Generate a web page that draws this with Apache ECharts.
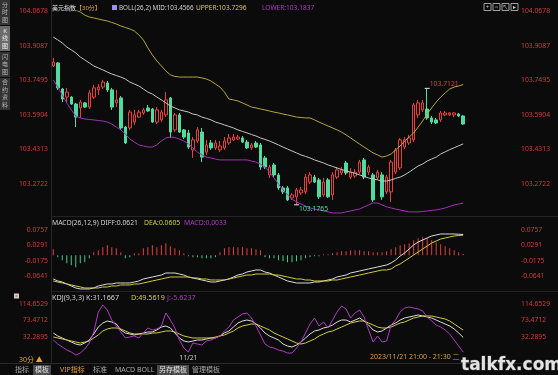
<!DOCTYPE html>
<html><head><meta charset="utf-8">
<script src="https://cdn.jsdelivr.net/npm/echarts@6/dist/echarts.min.js"></script>
<style>html,body{margin:0;padding:0;background:#0b0b0b;}#c{width:558px;height:375px;}</style>
</head><body><div id="c"></div>
<script>
// ---------- DATA ----------
const slotCount = 103;            // category slots on the time axis (92 bars + empty space)
const dayLabelIndex = 30;
const dayLabel = '11/21';
const symbolName = '美元指数';
const periodName = '【30分】';
const lastBarText = '2023/11/21 21:00 - 21:30 二';
const upperTagValue = 103.7323;
const highMarkIndex = 83;         // bar whose high is annotated
const lowMarkIndex = 54;          // bar whose low is annotated

// candles: [open, close, low, high]
const candles = [
[103.815,103.833,103.810,103.852],[103.829,103.714,103.705,103.833],[103.709,103.663,103.649,103.714],
[103.672,103.695,103.645,103.714],[103.672,103.640,103.636,103.677],[103.640,103.580,103.534,103.645],
[103.622,103.649,103.576,103.659],[103.645,103.626,103.622,103.649],[103.626,103.691,103.617,103.705],
[103.672,103.714,103.663,103.728],[103.705,103.718,103.682,103.732],[103.718,103.741,103.709,103.751],
[103.737,103.705,103.695,103.746],[103.705,103.626,103.613,103.714],[103.645,103.659,103.626,103.705],
[103.668,103.530,103.521,103.677],[103.534,103.461,103.456,103.539],[103.530,103.603,103.521,103.613],
[103.557,103.590,103.544,103.613],[103.580,103.603,103.576,103.613],[103.599,103.613,103.590,103.622],
[103.622,103.608,103.603,103.636],[103.617,103.557,103.553,103.622],[103.557,103.613,103.548,103.626],
[103.567,103.603,103.557,103.613],[103.590,103.659,103.580,103.695],[103.668,103.511,103.484,103.672],
[103.521,103.590,103.511,103.599],[103.590,103.511,103.507,103.599],[103.521,103.488,103.479,103.525],
[103.507,103.442,103.433,103.521],[103.429,103.475,103.392,103.488],[103.470,103.521,103.461,103.534],
[103.511,103.396,103.373,103.530],[103.419,103.452,103.406,103.475],[103.461,103.438,103.429,103.475],
[103.438,103.461,103.429,103.475],[103.429,103.447,103.419,103.470],[103.438,103.470,103.429,103.488],
[103.461,103.484,103.452,103.502],[103.475,103.488,103.470,103.502],[103.479,103.488,103.475,103.498],
[103.484,103.465,103.461,103.493],[103.465,103.438,103.433,103.475],[103.438,103.452,103.429,103.461],
[103.461,103.442,103.438,103.470],[103.452,103.350,103.337,103.461],[103.392,103.350,103.341,103.401],
[103.314,103.350,103.300,103.360],[103.360,103.314,103.304,103.369],[103.314,103.254,103.245,103.323],
[103.254,103.236,103.226,103.263],[103.254,103.199,103.194,103.263],[103.208,103.222,103.199,103.231],
[103.213,103.245,103.1765,103.254],[103.231,103.245,103.222,103.259],[103.236,103.304,103.226,103.318],
[103.281,103.314,103.272,103.327],[103.304,103.281,103.277,103.314],[103.291,103.213,103.203,103.300],
[103.222,103.281,103.213,103.300],[103.291,103.213,103.208,103.300],[103.222,103.314,103.199,103.327],
[103.304,103.337,103.295,103.350],[103.323,103.337,103.314,103.350],[103.369,103.323,103.314,103.378],
[103.304,103.327,103.295,103.346],[103.309,103.327,103.300,103.341],[103.327,103.373,103.318,103.383],
[103.383,103.304,103.295,103.392],[103.327,103.350,103.314,103.360],[103.314,103.199,103.190,103.323],
[103.300,103.327,103.291,103.337],[103.314,103.213,103.199,103.327],[103.236,103.304,103.226,103.314],
[103.236,103.373,103.190,103.383],[103.327,103.429,103.318,103.438],[103.346,103.475,103.337,103.484],
[103.442,103.475,103.433,103.488],[103.461,103.484,103.452,103.498],[103.475,103.636,103.465,103.645],
[103.590,103.645,103.576,103.659],[103.613,103.645,103.603,103.659],[103.617,103.576,103.567,103.7121],
[103.576,103.557,103.548,103.585],[103.567,103.553,103.548,103.576],[103.567,103.599,103.557,103.608],
[103.590,103.599,103.585,103.608],[103.590,103.599,103.585,103.603],[103.590,103.599,103.580,103.603],
[103.594,103.585,103.580,103.599],[103.585,103.548,103.544,103.590]
];

const bollMid = [103.948,103.935,103.921,103.902,103.889,103.875,103.856,103.843,103.829,103.815,
103.806,103.797,103.787,103.778,103.771,103.764,103.755,103.741,103.732,103.723,
103.709,103.695,103.686,103.672,103.659,103.645,103.631,103.622,103.613,103.608,
103.603,103.594,103.590,103.580,103.574,103.567,103.557,103.551,103.544,103.537,
103.530,103.521,103.514,103.507,103.500,103.493,103.484,103.477,103.470,103.461,
103.452,103.442,103.433,103.424,103.415,103.406,103.399,103.392,103.383,103.376,
103.369,103.360,103.353,103.346,103.339,103.332,103.327,103.321,103.314,103.307,
103.300,103.295,103.291,103.286,103.286,103.291,103.298,103.304,103.314,103.327,
103.341,103.355,103.364,103.378,103.387,103.396,103.410,103.420,103.430,103.439,
103.448,103.4566];
const bollUpper = [104.141,104.128,104.114,104.100,104.086,104.072,104.063,104.049,104.040,104.036,
104.031,104.026,104.022,104.015,104.008,103.999,103.992,103.985,103.976,103.958,
103.935,103.898,103.866,103.838,103.815,103.792,103.774,103.767,103.764,103.764,
103.764,103.764,103.764,103.760,103.755,103.746,103.732,103.718,103.695,103.663,
103.659,103.654,103.645,103.636,103.626,103.622,103.617,103.613,103.608,103.603,
103.599,103.594,103.590,103.585,103.580,103.578,103.576,103.576,103.567,103.557,
103.548,103.539,103.530,103.521,103.511,103.498,103.484,103.470,103.456,103.442,
103.429,103.415,103.406,103.396,103.401,103.410,103.429,103.447,103.470,103.488,
103.507,103.534,103.562,103.594,103.622,103.649,103.672,103.691,103.709,103.718,
103.723,103.7296];
const bollLower = [103.751,103.718,103.682,103.645,103.613,103.585,103.576,103.571,103.569,103.567,
103.564,103.562,103.557,103.548,103.534,103.521,103.502,103.479,103.465,103.452,
103.447,103.442,103.442,103.452,103.470,103.484,103.488,103.486,103.479,103.470,
103.456,103.438,103.419,103.406,103.396,103.392,103.387,103.383,103.383,103.383,
103.383,103.383,103.383,103.383,103.378,103.373,103.364,103.350,103.327,103.300,
103.272,103.245,103.222,103.203,103.190,103.180,103.171,103.162,103.157,103.153,
103.148,103.144,103.139,103.139,103.139,103.144,103.148,103.153,103.157,103.167,
103.176,103.185,103.185,103.176,103.167,103.162,103.157,103.153,103.148,103.144,
103.144,103.144,103.146,103.148,103.151,103.153,103.157,103.162,103.169,103.176,
103.180,103.1837];

const macdDiff = [-0.0716,-0.0776,-0.0806,-0.0866,-0.0926,-0.0986,-0.1016,-0.1016,-0.1016,-0.0986,
-0.0926,-0.0896,-0.0866,-0.0866,-0.0836,-0.0836,-0.0836,-0.0836,-0.0806,-0.0776,
-0.0716,-0.0686,-0.0656,-0.0626,-0.0596,-0.0536,-0.0536,-0.0536,-0.0566,-0.0596,
-0.0656,-0.0686,-0.0716,-0.0746,-0.0776,-0.0806,-0.0806,-0.0776,-0.0746,-0.0716,
-0.0656,-0.0596,-0.0566,-0.0506,-0.0476,-0.0445,-0.0445,-0.0506,-0.0536,-0.0596,
-0.0656,-0.0716,-0.0776,-0.0806,-0.0836,-0.0836,-0.0836,-0.0836,-0.0806,-0.0806,
-0.0776,-0.0746,-0.0716,-0.0656,-0.0626,-0.0596,-0.0536,-0.0506,-0.0476,-0.0445,
-0.0415,-0.0385,-0.0355,-0.0325,-0.0295,-0.0235,-0.0145,-0.0025,0.0066,0.0186,
0.0306,0.0396,0.0456,0.0517,0.0577,0.0607,0.0637,0.0637,0.0637,0.0637,
0.0630,0.0621];
const macdDea = [-0.0776,-0.0806,-0.0836,-0.0866,-0.0896,-0.0926,-0.0956,-0.0986,-0.0986,-0.0986,
-0.0986,-0.0956,-0.0956,-0.0926,-0.0926,-0.0896,-0.0896,-0.0896,-0.0866,-0.0866,
-0.0836,-0.0806,-0.0776,-0.0746,-0.0716,-0.0686,-0.0656,-0.0656,-0.0656,-0.0656,
-0.0656,-0.0686,-0.0686,-0.0716,-0.0716,-0.0746,-0.0746,-0.0746,-0.0746,-0.0716,
-0.0686,-0.0656,-0.0626,-0.0596,-0.0596,-0.0566,-0.0566,-0.0566,-0.0566,-0.0596,
-0.0596,-0.0626,-0.0656,-0.0686,-0.0716,-0.0716,-0.0746,-0.0746,-0.0776,-0.0776,
-0.0776,-0.0776,-0.0746,-0.0746,-0.0716,-0.0686,-0.0656,-0.0626,-0.0596,-0.0566,
-0.0536,-0.0506,-0.0476,-0.0445,-0.0445,-0.0415,-0.0325,-0.0265,-0.0175,-0.0085,
0.0005,0.0096,0.0186,0.0276,0.0366,0.0426,0.0486,0.0517,0.0547,0.0577,
0.0590,0.0605];
const macdHist = [0.0180,-0.0060,-0.0150,-0.0240,-0.0301,-0.0361,-0.0240,-0.0210,-0.0090,0.0090,
0.0150,0.0240,0.0301,0.0240,0.0210,0.0090,-0.0090,-0.0060,0.0060,0.0060,
0.0210,0.0240,0.0301,0.0240,0.0301,0.0361,0.0271,0.0210,0.0150,0.0060,
-0.0030,-0.0060,-0.0060,-0.0090,-0.0090,-0.0090,-0.0060,0.0090,0.0210,0.0240,
0.0240,0.0240,0.0240,0.0210,0.0210,0.0180,0.0150,-0.0060,-0.0090,-0.0090,
-0.0150,-0.0180,-0.0210,-0.0210,-0.0180,-0.0150,-0.0090,-0.0060,-0.0030,-0.0030,
0.0030,0.0030,0.0060,0.0090,0.0120,0.0120,0.0150,0.0150,0.0150,0.0120,
0.0120,0.0090,0.0090,0.0090,0.0120,0.0180,0.0240,0.0301,0.0331,0.0361,
0.0451,0.0511,0.0541,0.0511,0.0451,0.0391,0.0331,0.0271,0.0210,0.0150,
0.0090,0.0033];

const kdjK = [42.3,34.8,29.8,24.8,19.8,14.8,12.3,17.3,24.8,39.8,
57.2,67.2,72.2,69.7,64.7,49.8,42.3,39.8,37.3,39.8,
42.3,44.8,44.8,49.8,57.2,59.7,54.8,42.3,29.8,22.3,
19.8,22.3,24.8,24.8,27.3,29.8,29.8,34.8,42.3,47.3,
57.2,67.2,72.2,74.7,72.2,64.7,54.8,42.3,34.8,29.8,
24.8,14.8,9.8,7.3,12.3,19.8,29.8,39.8,47.3,49.8,
54.8,57.2,62.2,69.7,74.7,74.7,69.7,74.7,79.7,72.2,
62.2,49.8,44.8,47.3,54.8,62.2,67.2,74.7,79.7,82.2,
84.7,87.2,84.7,82.2,79.7,74.7,69.7,64.7,59.7,52.3,
42.3,31.1667];
const kdjD = [32.3,29.8,27.3,24.8,22.3,19.8,17.3,19.8,22.3,29.8,
37.3,47.3,52.3,54.8,54.8,52.3,47.3,42.3,39.8,39.8,
39.8,39.8,42.3,42.3,44.8,47.3,47.3,44.8,39.8,34.8,
32.3,29.8,29.8,29.8,29.8,29.8,32.3,34.8,37.3,42.3,
47.3,54.8,59.7,62.2,64.7,64.7,59.7,54.8,49.8,42.3,
37.3,32.3,27.3,22.3,17.3,14.8,17.3,22.3,27.3,34.8,
39.8,44.8,47.3,52.3,57.2,62.2,67.2,69.7,72.2,72.2,
67.2,62.2,57.2,54.8,54.8,57.2,62.2,67.2,69.7,74.7,
79.7,82.2,84.7,84.7,84.7,82.2,79.7,77.2,72.2,64.7,
57.2,49.5619];
const kdjJ = [24.8,14.8,7.3,-0.2,-5.2,-12.6,-7.7,2.3,17.3,44.8,
94.7,112.2,99.7,74.7,59.7,44.8,29.8,32.3,34.8,29.8,
42.3,54.8,49.8,52.3,59.7,92.2,74.7,54.8,24.8,4.8,
-5.2,17.3,14.8,12.3,22.3,24.8,29.8,34.8,47.3,57.2,
74.7,82.2,89.7,92.2,79.7,59.7,37.3,14.8,7.3,4.8,
-0.2,-2.7,-7.7,-7.7,4.8,19.8,42.3,64.7,79.7,59.7,
69.7,54.8,74.7,94.7,109.7,102.2,79.7,92.2,99.7,82.2,
49.8,19.8,34.8,19.8,22.3,62.2,74.7,94.7,104.7,107.2,
104.7,102.2,97.2,82.2,72.2,62.2,57.2,49.8,39.8,24.8,
9.8,-5.6237];

// axis tick labels
const mainTicks = [103.2722, 103.4313, 103.5904, 103.7495, 103.9087, 104.0678];
const macdTicks = [-0.0641, -0.0175, 0.0291, 0.0757];
const kdjTicks = [32.2895, 73.4712, 114.6529];

// ---------- CHART ----------
const categories = [];
for (let i = 0; i < slotCount; i++) categories.push(String(i));
const last = a => a[a.length - 1];
const FF = '"Noto Sans","Noto Sans CJK SC",sans-serif';
const RED = '#e8403c', GREEN = '#4fdc9e', AXR = '#cf3c3c';
const WHITE = '#dcdcdc', YEL = '#d2cc44', PUR = '#b03ac6';
const AXFS = 6.8, LGFS = 6.6;

const chart = echarts.init(document.getElementById('c'), null, {renderer: 'canvas'});

const grids = [
  {left: 51, right: 43, top: 11, height: 207.6},
  {left: 51, right: 43, top: 217, height: 74},
  {left: 51, right: 43, top: 292, height: 64}
].map(g => Object.assign(g, {outerBoundsMode: 'none', containLabel: false}));

function xAx(idx, showLabel) {
  return {
    type: 'category', gridIndex: idx, data: categories, boundaryGap: true,
    axisLine: {show: false}, axisTick: {show: false}, splitLine: {show: false},
    axisLabel: showLabel ? {
      show: true, interval: (i) => i === dayLabelIndex, margin: -1,
      formatter: (v, i) => (i === dayLabelIndex ? dayLabel : ''),
      color: '#cfcfcf', fontSize: AXFS, fontFamily: FF
    } : {show: false}
  };
}
function yAx(idx, pos, min, max, ticks, digits) {
  return {
    type: 'value', gridIndex: idx, position: pos, min: min, max: max, scale: true,
    axisLine: {show: false}, axisTick: {show: false}, splitLine: {show: false},
    axisLabel: {
      show: true, customValues: ticks, margin: pos === 'left' ? 3 : 6,
      formatter: v => v.toFixed(digits), color: AXR, fontSize: AXFS, fontFamily: FF,
      hideOverlap: false
    }
  };
}

const mainMin = 103.11308, mainMax = 104.0678;
const macdMin = -0.1077, macdMax = 0.1148;
const kdjMin = -15.13, kdjMax = 144.6;

function line(name, data, color, xi, yi, extra) {
  return Object.assign({
    type: 'line', name, data, xAxisIndex: xi, yAxisIndex: yi,
    symbol: 'none', silent: true, clip: true,
    lineStyle: {color, width: 1}, itemStyle: {color}
  }, extra || {});
}

function gText(x, y, text, fill, size) {
  return {
    type: 'text', x, y, silent: true, z: 100,
    style: {text, fill, fontSize: size || LGFS, fontFamily: FF, align: 'left', verticalAlign: 'middle'}
  };
}

const graphics = [];
// separators
const sep = '#242424';
graphics.push({type: 'line', silent: true, shape: {x1: 51.5, y1: 0, x2: 51.5, y2: 363}, style: {stroke: sep, lineWidth: 1}});
graphics.push({type: 'line', silent: true, shape: {x1: 51, y1: 216.5, x2: 558, y2: 216.5}, style: {stroke: sep, lineWidth: 1}});
graphics.push({type: 'line', silent: true, shape: {x1: 51, y1: 291.5, x2: 558, y2: 291.5}, style: {stroke: sep, lineWidth: 1}});
graphics.push({type: 'line', silent: true, shape: {x1: 0, y1: 363.5, x2: 558, y2: 363.5}, style: {stroke: '#2a2a2a', lineWidth: 1}});

// left side vertical tabs
const sideTabs = [['分时图', 0, 25, false], ['K线图', 26, 51, true], ['闪电图', 52, 77, false], ['合约资料', 78, 110, false]];
sideTabs.forEach(([t, y1, y2, act]) => {
  graphics.push({type: 'rect', silent: true, shape: {x: 0, y: y1, width: 10, height: y2 - y1}, style: {fill: act ? '#6a6a6a' : '#333333'}});
  graphics.push({type: 'text', silent: true, z: 100, x: 5, y: (y1 + y2) / 2,
    style: {text: t.split('').join('\n'), fill: act ? '#f0f0f0' : '#b8b8b8', fontSize: 6, lineHeight: 7.5, fontFamily: FF, align: 'center', verticalAlign: 'middle'}});
});

// main legend
graphics.push({type: 'text', x: 52, y: 8, silent: true, z: 100,
  style: {text: '{a|' + symbolName + '}{b|' + periodName + '}', fontFamily: FF, fontSize: 6, align: 'left', verticalAlign: 'middle',
    rich: {a: {fill: '#e6e6e6', fontSize: 6, fontFamily: FF}, b: {fill: '#e8a33a', fontSize: 6, fontFamily: FF}}}});
graphics.push({type: 'rect', silent: true, shape: {x: 112, y: 5, width: 5, height: 5}, style: {fill: '#9d8ee6'}});
graphics.push(gText(119, 8, 'BOLL(26,2) MID:' + last(bollMid).toFixed(4), '#d0d0d0', 6.3));
graphics.push(gText(196, 8, 'UPPER:' + last(bollUpper).toFixed(4), YEL));
graphics.push(gText(262, 8, 'LOWER:' + last(bollLower).toFixed(4), PUR));

// toolbar icons
[484, 493, 502, 511].forEach((x, i) => {
  graphics.push({type: 'rect', silent: true, shape: {x: x, y: 3.5, width: 7, height: 7}, style: {fill: 'none', stroke: '#a0a0a0', lineWidth: 1}});
  const glyph = ['+', '▫', '↖', '▸'][i];
  graphics.push({type: 'text', silent: true, x: x + 3.5, y: 7, style: {text: glyph, fill: '#c8c8c8', fontSize: 6, fontFamily: FF, align: 'center', verticalAlign: 'middle'}});
});

// MACD legend
graphics.push(gText(52, 223, 'MACD(26,12,9) DIFF:' + last(macdDiff).toFixed(4), '#d0d0d0', 6.8));
graphics.push(gText(144, 223, 'DEA:' + last(macdDea).toFixed(4), YEL, 6.8));
graphics.push(gText(184, 223, 'MACD:' + last(macdHist).toFixed(4), PUR, 6.8));

// KDJ legend
graphics.push({type: 'rect', silent: true, shape: {x: 14, y: 293.5, width: 5, height: 5}, style: {fill: '#cfcfcf'}});
graphics.push({type: 'rect', silent: true, shape: {x: 15.5, y: 295.5, width: 2, height: 1}, style: {fill: '#d03030'}});
graphics.push(gText(52, 298, 'KDJ(9,3,3) K:' + last(kdjK).toFixed(4), '#d0d0d0', 7.2));
graphics.push(gText(131, 298, 'D:' + last(kdjD).toFixed(4), YEL, 7.2));
graphics.push(gText(167, 298, 'J:' + last(kdjJ).toFixed(4), PUR, 7.2));

// bottom
graphics.push(gText(19, 360, '30分 ▲', '#e3a13a', 7));
graphics.push(gText(370, 357, lastBarText, '#d6a04a', 7));
const tabs = [['指标', 15, false, '#a8a8a8'], ['模板', 35, true, '#e0e0e0'], ['VIP指标', 60, false, '#e0a030'],
  ['标准', 93, false, '#a8a8a8'], ['MACD', 115, false, '#a8a8a8'], ['BOLL', 137, false, '#a8a8a8'],
  ['另存模板', 159, true, '#e0e0e0'], ['管理模板', 192, false, '#a8a8a8']];
tabs.forEach(([t, x, bg, col]) => {
  if (bg) graphics.push({type: 'rect', silent: true, shape: {x: x - 2, y: 365, width: t.length * 7 + 4, height: 10}, style: {fill: '#4a4a4a'}});
  graphics.push(gText(x, 370, t, col, 7));
});
graphics.push({type: 'text', silent: true, z: 120, x: 461, y: 366,
  style: {text: 'talkfx.com', fill: '#e4e4e4', stroke: '#3a3a3a', lineWidth: 1, fontSize: 17, fontWeight: 'bold', fontFamily: '"DejaVu Sans",sans-serif', align: 'left', verticalAlign: 'middle'}});

const hiVal = candles[highMarkIndex][3];
const loVal = candles[lowMarkIndex][2];

const option = {
  backgroundColor: '#0b0b0b',
  animation: false,
  grid: grids,
  xAxis: [xAx(0, false), xAx(1, false), xAx(2, true)],
  yAxis: [
    yAx(0, 'left', mainMin, mainMax, mainTicks, 4), yAx(0, 'right', mainMin, mainMax, mainTicks, 4),
    yAx(1, 'left', macdMin, macdMax, macdTicks, 4), yAx(1, 'right', macdMin, macdMax, macdTicks, 4),
    yAx(2, 'left', kdjMin, kdjMax, kdjTicks, 4), yAx(2, 'right', kdjMin, kdjMax, kdjTicks, 4)
  ],
  series: [
    {
      type: 'candlestick', data: candles, xAxisIndex: 0, yAxisIndex: 0, barWidth: 3, silent: true, clip: true,
      itemStyle: {color: '#0b0b0b', color0: GREEN, borderColor: RED, borderColor0: GREEN, borderWidth: 1},
      markPoint: {
        silent: true, symbol: 'rect', symbolSize: [5, 1], itemStyle: {color: '#e6e6e6'},
        data: [
          {coord: [highMarkIndex, hiVal], value: hiVal,
            label: {show: true, position: 'right', distance: 0, offset: [0, -4], color: RED, fontSize: AXFS, fontFamily: FF,
              formatter: () => hiVal.toFixed(4)}},
          {coord: [lowMarkIndex, loVal], value: loVal,
            label: {show: true, position: 'right', distance: 0, offset: [0, 4], color: GREEN, fontSize: AXFS, fontFamily: FF,
              formatter: () => loVal.toFixed(4)}}
        ]
      }
    },
    line('MID', bollMid, '#c4c4c4', 0, 0),
    line('UPPER', bollUpper, '#b3a83a', 0, 0, {
      markLine: {
        silent: true, symbol: ['none', 'none'], lineStyle: {opacity: 0},
        data: [{yAxis: upperTagValue}],
        label: {show: true, position: 'end', distance: 6, padding: [10, 0, 0, 0], color: '#efe6b4', fontSize: AXFS, fontFamily: FF,
          formatter: () => upperTagValue.toFixed(4)}
      }
    }),
    line('LOWER', bollLower, '#a031b6', 0, 0),
    {
      type: 'bar', data: macdHist, xAxisIndex: 1, yAxisIndex: 2, barWidth: 1, silent: true,
      itemStyle: {color: p => (p.value >= 0 ? '#e0403c' : '#45c98e')}
    },
    line('DIFF', macdDiff, WHITE, 1, 2),
    line('DEA', macdDea, YEL, 1, 2),
    line('K', kdjK, WHITE, 2, 4),
    line('D', kdjD, YEL, 2, 4),
    line('J', kdjJ, PUR, 2, 4)
  ],
  graphic: graphics
};
chart.setOption(option);
</script></body></html>
